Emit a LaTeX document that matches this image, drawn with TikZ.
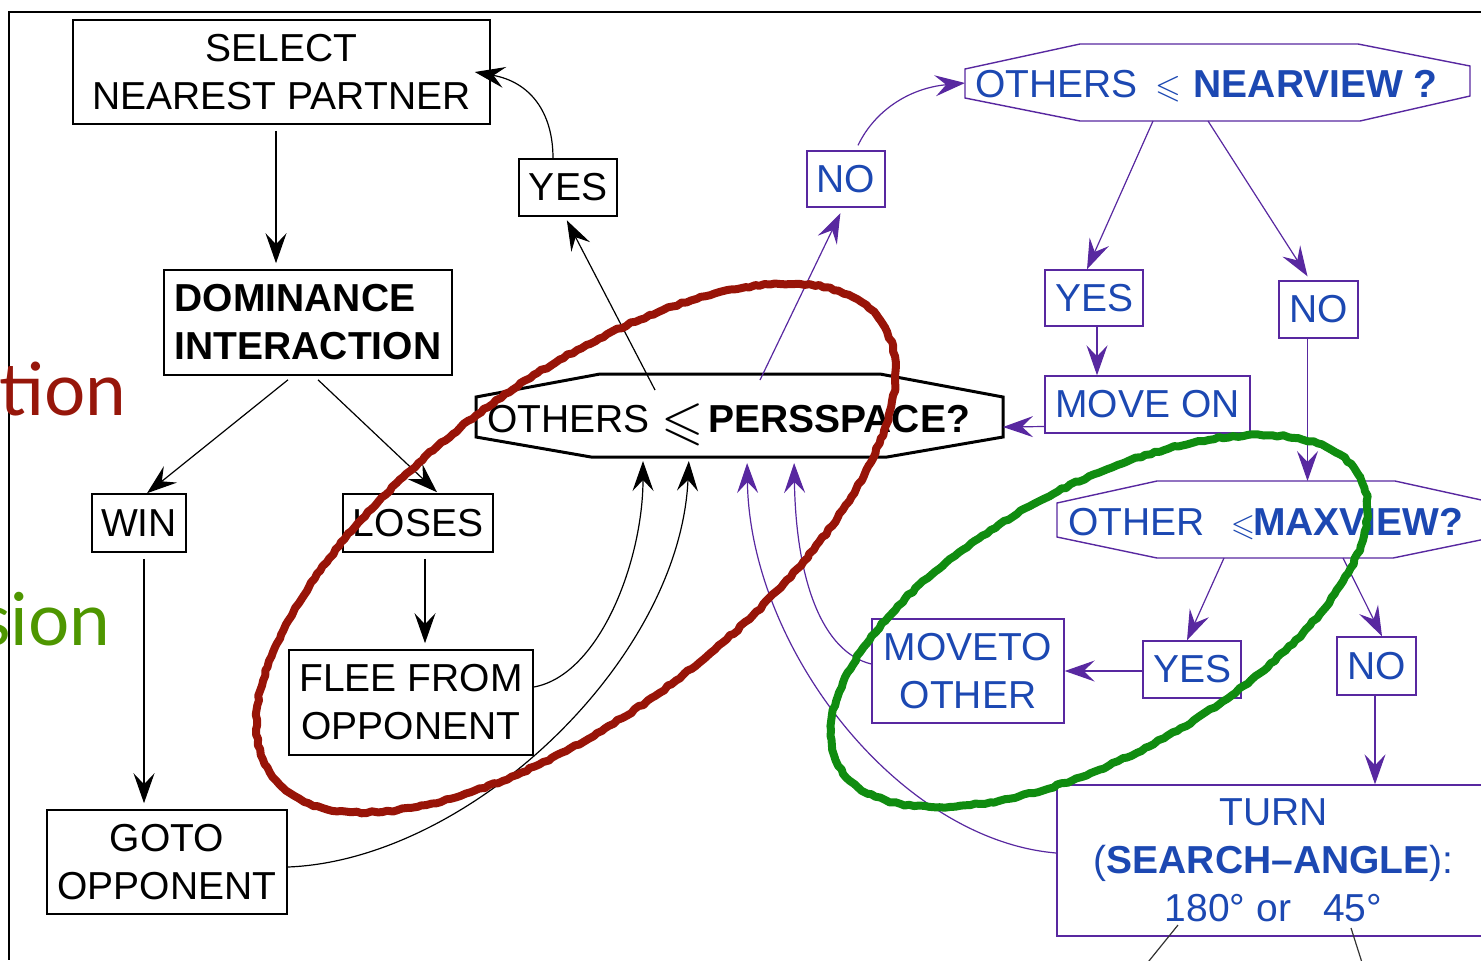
\documentclass[tikz,border=0pt]{standalone}
\usepackage{amssymb}
\usepackage{graphicx}
\usepackage{fontspec}
\setmainfont{Liberation Sans}
\newfontfamily\gillfont{Lato}
\usetikzlibrary{arrows.meta,calc,decorations.pathmorphing}
\definecolor{pur}{RGB}{88,40,160}
\definecolor{blu}{RGB}{28,72,178}
\definecolor{redc}{RGB}{152,20,8}
\definecolor{grn}{RGB}{16,140,16}
\definecolor{tionred}{RGB}{150,22,10}
\definecolor{siongreen}{RGB}{78,150,0}
\begin{document}
\begin{tikzpicture}[x=0.5pt,y=-0.5pt,
  txt/.style={font=\fontsize{19.5}{24}\selectfont, inner sep=0pt, align=center},
  bbox/.style={txt, draw=black, line width=0.8pt},
  pbox/.style={txt, draw=pur, line width=0.7pt, text=blu},
  arr/.style={draw=black, line width=0.6pt, -{Stealth[length=15pt,width=10.5pt,inset=5.5pt]}},
  parr/.style={draw=pur, line width=0.6pt, -{Stealth[length=15pt,width=10.5pt,inset=5.5pt]}},
  gap/.style={shorten <=3pt, shorten >=3pt},
  oct/.style={draw=black, line width=1.5pt, line join=miter},
  poct/.style={draw=pur, line width=0.7pt},
  chalk/.style={line width=4pt, line cap=round, line join=round, decorate, decoration={random steps, segment length=2.5pt, amplitude=0.5pt}},
  bigtxt/.style={anchor=base east, inner sep=0pt, font=\gillfont\fontsize{36.5}{40}\selectfont}
]
\useasboundingbox (0,0) rectangle (1481,960);
\clip (0,0) rectangle (1481,960);

% frame
\draw[line width=1.1pt] (8,12) -- (1481,12);
\draw[line width=1.1pt] (9,12) -- (9,960);

% left fragments
\node[bigtxt, text=tionred] (tion) at (127,415) {tion};
\node[bigtxt, text=siongreen] (sion) at (111,645) {sion};

% black boxes
\node[bbox, minimum width=208.5pt, minimum height=52pt] (sel) at (281.5,72) {SELECT\\NEAREST PARTNER};
\node[bbox, minimum width=144pt, minimum height=52.5pt, font=\fontsize{19.5}{24}\selectfont\bfseries, align=left] (dom) at (308,322.5) {DOMINANCE\\INTERACTION};
\node[bbox, minimum width=47pt, minimum height=29pt] (win) at (139,523) {WIN};
\node[bbox, minimum width=75pt, minimum height=29pt] (loses) at (418,523) {LOSES};
\node[bbox, minimum width=122pt, minimum height=52.5pt] (flee) at (411,702.5) {FLEE FROM\\OPPONENT};
\node[bbox, minimum width=120pt, minimum height=52pt] (goto) at (167,862) {GOTO\\OPPONENT};
\node[bbox, minimum width=49pt, minimum height=28.5pt] (yesA) at (568,187.5) {YES};

% purple boxes
\node[pbox, minimum width=39pt, minimum height=28pt] (noA) at (846,179) {NO};
\node[pbox, minimum width=49pt, minimum height=28pt] (yesB) at (1094,298) {YES};
\node[pbox, minimum width=39.5pt, minimum height=28.5pt] (noB) at (1318.5,309.5) {NO};
\node[pbox, minimum width=102.5pt, minimum height=28.5pt] (moveon) at (1147.5,404.5) {MOVE ON};
\node[pbox, minimum width=49pt, minimum height=28.5pt] (yesC) at (1192,669.5) {YES};
\node[pbox, minimum width=39.5pt, minimum height=29pt] (noC) at (1376.5,666) {NO};
\node[pbox, minimum width=96pt, minimum height=52pt] (moveto) at (968,671) {MOVETO\\OTHER};
\node[pbox, minimum width=216.5pt, minimum height=75.5pt] (turn) at (1273.5,860.5) {TURN\\(\textbf{SEARCH–ANGLE}):\\180° or\hspace{16pt}45°};

% octagons
\draw[oct] (476,397) -- (600,374) -- (880,374) -- (1003,397) -- (1003,437) -- (887,457) -- (591,457) -- (476,437) -- cycle;
\draw[poct] (965,69) -- (1080,44) -- (1358,44) -- (1470,66) -- (1470,96) -- (1360,121) -- (1080,121) -- (965,98) -- cycle;
\draw[poct] (1057,503) -- (1157,481) -- (1395,481) -- (1495,503) -- (1495,537) -- (1393,558) -- (1157,558) -- (1057,537) -- cycle;

\node[txt, anchor=base west] (perss) at (487,432) {OTHERS\hspace{6pt}\raisebox{-3pt}{\scalebox{1.4}{$\leqslant$}}\hspace{2pt}\textbf{PERSSPACE?}};
\node[txt, text=blu, anchor=base west] (near) at (975,97) {OTHERS\hspace{9pt}\scalebox{0.85}{$\leqslant$}\hspace{6pt}\textbf{NEARVIEW ?}};
\node[txt, text=blu, anchor=base west] (maxv) at (1068,535) {OTHER\hspace{13pt}\scalebox{0.8}{$\leqslant$}\hspace{-1pt}\textbf{MAXVIEW?}};

% contact points on octagons
\coordinate (pY) at (655,390);
\coordinate (pN) at (760,380);
\coordinate (pR) at (1003,427);
\coordinate (pB1) at (643,457);
\coordinate (pB2) at (689,457);
\coordinate (pB3) at (747,457);
\coordinate (pB4) at (794,457);
\coordinate (nL) at (965,83);
\coordinate (nB1) at (1153,121);
\coordinate (nB2) at (1208,121);
\coordinate (mT) at (1307.5,481);
\coordinate (mB1) at (1224,558);
\coordinate (mB2) at (1343,558);
\coordinate (t1) at (1178,925);
\coordinate (t1e) at (1140,972);
\coordinate (t2) at (1351,928);
\coordinate (t2e) at (1365,972);

% black connectors
\draw[arr,gap] ($(sel.south)+(-5.5,0)$) -- ($(dom.north)+(-32,0)$);
\draw[arr] ($(dom.south)+(-20,4)$) -- ($(win.north)+(8,0)$);
\draw[arr] ($(dom.south)+(10,4)$) -- ($(loses.north)+(19,-1)$);
\draw[arr,gap] ($(win.south)+(5,0)$) -- ($(goto.north)+(-23,0)$);
\draw[arr,gap] ($(loses.south)+(7,0)$) -- ($(flee.north)+(14,0)$);
\draw[arr, shorten >=2pt] (pY) -- ($(yesA.south)+(-3,0)$);
\draw[arr] ($(yesA.north)+(-15,0)$) .. controls (553,112) and (530,82) .. ($(sel.east)+(-16,0)$);
\draw[arr, shorten >=2pt] ($(flee.east)+(0,-15.5)$) .. controls (600,675) and (643,560) .. (pB1);
\draw[arr, shorten >=2pt] ($(goto.east)+(0,5)$) .. controls (470,860) and (680,660) .. (pB2);

% purple connectors
\draw[parr, shorten >=3pt] (pN) -- ($(noA.south)+(-3,0)$);
\draw[parr] ($(noA.north)+(12,-5)$) .. controls (875,110) and (910,88) .. (nL);
\draw[parr] (nB1) -- ($(yesB.north)+(-7,0)$);
\draw[parr] (nB2) -- ($(noB.north)+(-11,-4)$);
\draw[parr] ($(yesB.south)+(3,0)$) -- ($(moveon.north)+(-50.5,0)$);
\draw[parr] ($(noB.south)+(-11,0)$) -- (mT);
\draw[parr] ($(moveon.west)+(0,22)$) -- (pR);
\draw[parr] (mB1) -- ($(yesC.north)+(-5,0)$);
\draw[parr] (mB2) -- ($(noC.north)+(5.5,0)$);
\draw[parr] ($(yesC.west)+(0,1.5)$) -- (moveto.east);
\draw[parr] ($(noC.south)+(-1.5,0)$) -- ($(turn.north)+(101.5,0)$);
\draw[parr, shorten >=3pt] ($(turn.west)+(0,-7.5)$) .. controls (900,840) and (750,650) .. (pB3);
\draw[parr, shorten >=3pt] ($(moveto.west)+(0,-7)$) .. controls (822,652) and (796,580) .. (pB4);

% lines leaving the bottom
\draw[line width=0.6pt, draw=black!80] (t1) -- (t1e);
\draw[line width=0.6pt, draw=black!80] (t2) -- (t2e);

% hand-drawn ellipses
\draw[chalk, draw=redc, rotate around={37:(576,548)}] (576,548) ellipse [x radius=190pt, y radius=83pt];
\draw[chalk, draw=grn, rotate around={29:(1099,621)}] (1099,621) ellipse [x radius=149pt, y radius=67pt];
\end{tikzpicture}
\end{document}
